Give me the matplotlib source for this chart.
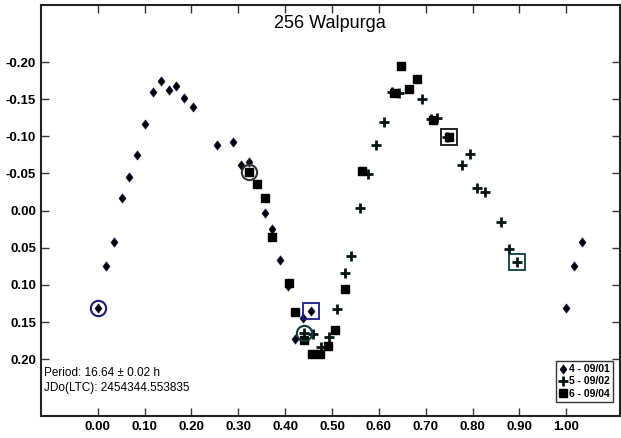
import matplotlib
matplotlib.use('Agg')
import matplotlib.pyplot as plt
from matplotlib.path import Path

plt.rcParams['font.family'] = ['Liberation Sans', 'DejaVu Sans']

# session 4 - 09/01 (diamonds)
s4_phase = [0.000, 0.017, 0.034, 0.051, 0.067, 0.084, 0.101, 0.118, 0.135, 0.152,
            0.168, 0.185, 0.203, 0.254, 0.288, 0.305, 0.322, 0.356, 0.372, 0.389,
            0.406, 0.422, 0.438, 0.456, 1.000, 1.017, 1.034]
s4_mag = [0.131, 0.075, 0.042, -0.017, -0.045, -0.075, -0.117, -0.159, -0.174, -0.162,
          -0.168, -0.151, -0.139, -0.089, -0.092, -0.062, -0.065, 0.003, 0.025, 0.066,
          0.102, 0.173, 0.144, 0.135, 0.131, 0.075, 0.042]

# session 5 - 09/02 (plus)
s5_phase = [0.440, 0.460, 0.476, 0.493, 0.510, 0.527, 0.540, 0.559, 0.577, 0.594,
            0.611, 0.628, 0.642, 0.692, 0.711, 0.725, 0.745, 0.777, 0.794, 0.810,
            0.827, 0.860, 0.878, 0.894]
s5_mag = [0.164, 0.166, 0.183, 0.170, 0.133, 0.084, 0.061, -0.004, -0.049, -0.089,
          -0.119, -0.160, -0.158, -0.150, -0.124, -0.125, -0.099, -0.062, -0.076, -0.031,
          -0.025, 0.015, 0.051, 0.069]

# session 6 - 09/04 (squares)
s6_phase = [0.322, 0.339, 0.356, 0.372, 0.409, 0.422, 0.440, 0.458, 0.474, 0.492,
            0.507, 0.527, 0.564, 0.632, 0.648, 0.664, 0.681, 0.715, 0.750]
s6_mag = [-0.052, -0.036, -0.017, 0.036, 0.097, 0.137, 0.174, 0.193, 0.193, 0.182,
          0.161, 0.106, -0.054, -0.158, -0.194, -0.164, -0.177, -0.122, -0.099]

# circled / boxed points (start/end of sessions)
circ_phase = [0.000, 0.322, 0.440]
circ_mag = [0.131, -0.052, 0.164]
circ_col = ['#1a1a6e', '#333333', '#0d3b3b']
box_phase = [0.456, 0.750, 0.894]
box_mag = [0.135, -0.099, 0.069]
box_col = ['#1a1a8a', '#111111', '#0d3b3b']

# slightly tall diamond like the original program uses
diamond = Path([(0, 1), (0.75, 0), (0, -1), (-0.75, 0), (0, 1)],
               [Path.MOVETO, Path.LINETO, Path.LINETO, Path.LINETO, Path.CLOSEPOLY])

fig = plt.figure(figsize=(6.21, 4.38), dpi=100)
ax = fig.add_axes([0.066, 0.050, 0.932, 0.939])

ax.plot(s4_phase, s4_mag, marker=diamond, color='black', mec='#101040', ms=6.5, mew=0.6,
        ls='None', label='4 - 09/01')
ax.plot(s5_phase, s5_mag, '+', color='black', mec='#061414', ms=7.5, mew=2, ls='None',
        label='5 - 09/02')
ax.plot(s6_phase, s6_mag, 's', color='black', ms=6, ls='None', label='6 - 09/04')

for p, m, c in zip(circ_phase, circ_mag, circ_col):
    ax.plot(p, m, 'o', mfc='none', mec=c, ms=11, mew=1.5)
for p, m, c in zip(box_phase, box_mag, box_col):
    ax.plot(p, m, 's', mfc='none', mec=c, ms=11, mew=1.3)

ax.set_xlim(-0.121, 1.114)
ax.set_ylim(0.2765, -0.277)

xt = [0.0, 0.1, 0.2, 0.3, 0.4, 0.5, 0.6, 0.7, 0.8, 0.9, 1.0]
yt = [-0.20, -0.15, -0.10, -0.05, 0.00, 0.05, 0.10, 0.15, 0.20]
ax.set_xticks(xt)
ax.set_xticklabels(['%.2f' % v for v in xt], fontweight='bold')
ax.set_yticks(yt)
ax.set_yticklabels(['%.2f' % v for v in yt], fontweight='bold')
ax.tick_params(direction='in', top=True, right=True, length=6, width=1, labelsize=9.5,
               color='#333333')
for s in ax.spines.values():
    s.set_linewidth(1.5)
    s.set_color('#222222')

ax.text(0.5, 0.955, '256 Walpurga', transform=ax.transAxes, ha='center', va='center',
        fontsize=13)
ax.text(0.006, 0.105, 'Period: 16.64 \u00b1 0.02 h', transform=ax.transAxes,
        fontsize=8.5, va='center')
ax.text(0.006, 0.068, 'JDo(LTC): 2454344.553835', transform=ax.transAxes,
        fontsize=8.5, va='center')

leg = ax.legend(loc='lower right', bbox_to_anchor=(0.988, 0.035),
                prop={'weight': 'bold', 'size': 7.5}, frameon=True, fancybox=False,
                handlelength=0.6, handletextpad=0.3, borderpad=0.3, labelspacing=0.2,
                borderaxespad=0)
leg.get_frame().set_edgecolor('black')
leg.get_frame().set_linewidth(1.0)

fig.savefig('out.png', dpi=100, facecolor='white')
